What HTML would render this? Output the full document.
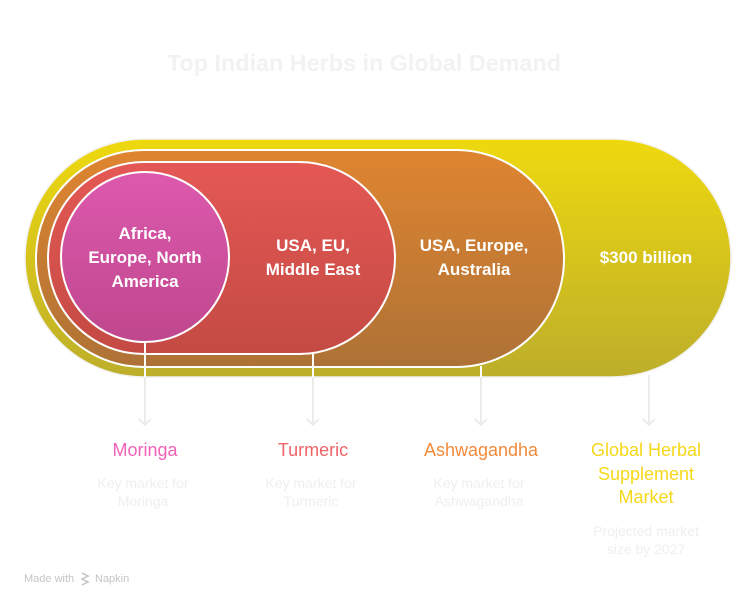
<!DOCTYPE html>
<html><head><meta charset="utf-8"><style>
html,body{margin:0;padding:0;background:#fff;width:756px;height:606px;overflow:hidden}
svg{display:block}
text{font-family:"Liberation Sans",Arial,sans-serif}
</style></head><body>
<svg width="756" height="606" viewBox="0 0 756 606" xmlns="http://www.w3.org/2000/svg">
<defs>
<linearGradient id="gy" x1="0" y1="0" x2="0" y2="1"><stop offset="0" stop-color="#eed90e"/><stop offset="1" stop-color="#bdae2b"/></linearGradient>
<linearGradient id="go" x1="0" y1="0" x2="0" y2="1"><stop offset="0" stop-color="#df8530"/><stop offset="1" stop-color="#ae7236"/></linearGradient>
<linearGradient id="gr" x1="0" y1="0" x2="0" y2="1"><stop offset="0" stop-color="#e45854"/><stop offset="1" stop-color="#c44a44"/></linearGradient>
<linearGradient id="gm" x1="0" y1="0" x2="0" y2="1"><stop offset="0" stop-color="#dd59ae"/><stop offset="1" stop-color="#bf478d"/></linearGradient>
</defs>
<text x="364" y="71" text-anchor="middle" font-size="23" font-weight="bold" fill="#f2f2f2" textLength="394" lengthAdjust="spacingAndGlyphs">Top Indian Herbs in Global Demand</text>
<g stroke="#ebebeb" stroke-width="2" fill="none">
<line x1="145" y1="340" x2="145" y2="425"/><polyline points="139,419 145,425 151,419"/>
<line x1="313" y1="352" x2="313" y2="425"/><polyline points="307,419 313,425 319,419"/>
<line x1="481" y1="365" x2="481" y2="425"/><polyline points="475,419 481,425 487,419"/>
<line x1="649" y1="375" x2="649" y2="425"/><polyline points="643,419 649,425 655,419"/>
</g>
<rect x="25" y="139" width="706" height="238" rx="119" fill="url(#gy)" stroke="#f2f2f2" stroke-width="1.5"/>
<rect x="36" y="150" width="528" height="217" rx="108" fill="url(#go)" stroke="#fff" stroke-width="2"/>
<rect x="48" y="162" width="347" height="192" rx="96" fill="url(#gr)" stroke="#fff" stroke-width="2"/>
<ellipse cx="145" cy="257" rx="84" ry="85" fill="url(#gm)" stroke="#fff" stroke-width="2"/>
<line x1="145" y1="342" x2="145" y2="377" stroke="#fff" stroke-width="2"/>
<line x1="313" y1="354" x2="313" y2="377" stroke="#fff" stroke-width="2"/>
<line x1="481" y1="366" x2="481" y2="377" stroke="#fff" stroke-width="2"/>
<g fill="#fff" font-size="17" font-weight="bold" text-anchor="middle">
<text x="145" y="239">Africa,</text><text x="145" y="263">Europe, North</text><text x="145" y="287">America</text>
<text x="313" y="251">USA, EU,</text><text x="313" y="275">Middle East</text>
<text x="474" y="251">USA, Europe,</text><text x="474" y="275">Australia</text>
<text x="646" y="263">$300 billion</text>
</g>
<g font-size="18" text-anchor="middle">
<text x="145" y="456" fill="#f062b8">Moringa</text>
<text x="313" y="456" fill="#ef6468">Turmeric</text>
<text x="481" y="456" fill="#f28a3c">Ashwagandha</text>
<text x="646" y="456" fill="#f5d819">Global Herbal</text>
<text x="646" y="480" fill="#f5d819">Supplement</text>
<text x="646" y="503" fill="#f5d819">Market</text>
</g>
<g font-size="14" text-anchor="middle" fill="#efefef">
<text x="143" y="488">Key market for</text><text x="143" y="506">Moringa</text>
<text x="311" y="488">Key market for</text><text x="311" y="506">Turmeric</text>
<text x="479" y="488">Key market for</text><text x="479" y="506">Ashwagandha</text>
<text x="646" y="536">Projected market</text><text x="646" y="554">size by 2027</text>
</g>
<text x="24" y="582" font-size="11" fill="#c4c4c4">Made with</text>
<g stroke="#c4c4c4" stroke-width="1.5" fill="none"><polyline points="82,573 88,576 82,579 88,582 82,585"/></g>
<text x="95" y="582" font-size="11" fill="#c4c4c4">Napkin</text>
</svg>
</body></html>
